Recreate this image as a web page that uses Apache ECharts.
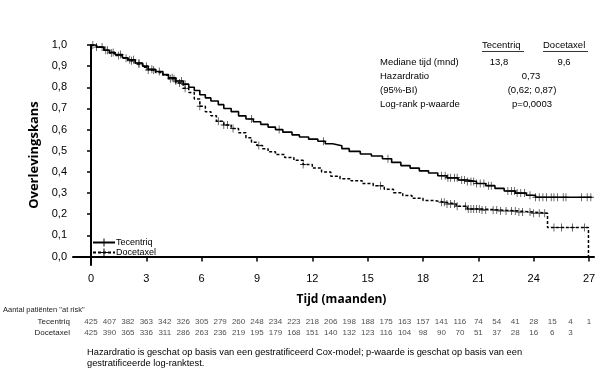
<!DOCTYPE html>
<html>
<head>
<meta charset="utf-8">
<script src="https://cdn.jsdelivr.net/npm/echarts@6/dist/echarts.min.js"></script>
<style>
  html, body { margin: 0; padding: 0; background: #fff; }
  #chart { width: 605px; height: 376px; }
</style>
</head>
<body>
<div id="chart"></div>
<script>
// tick labels
var xTicks = [0, 3, 6, 9, 12, 15, 18, 21, 24, 27];
var yTicks = [0, 0.1, 0.2, 0.3, 0.4, 0.5, 0.6, 0.7, 0.8, 0.9, 1.0];

// Kaplan-Meier stappen (tijd in maanden, overlevingskans na de stap)
var tecTime = [0, 0.3, 0.7, 1.0, 1.3, 1.7, 2.0, 2.4, 2.8, 3.1, 3.5, 3.9, 4.2, 4.6, 5.0, 5.3, 5.6, 5.9, 6.2, 6.5, 6.9, 7.2, 7.6, 8.0, 8.4, 8.8, 9.2, 9.6, 10.0, 10.4, 10.9, 11.3, 11.8, 12.3, 12.7, 13.1, 13.6, 14.0, 14.6, 15.2, 15.8, 16.3, 16.8, 17.3, 17.8, 18.3, 18.8, 19.3, 19.9, 20.4, 20.9, 21.4, 21.9, 22.4, 23.0, 23.6, 24.1, 27.15];
var tecSurv = [1.0, 0.99, 0.975, 0.965, 0.955, 0.94, 0.93, 0.915, 0.9, 0.885, 0.875, 0.86, 0.845, 0.83, 0.815, 0.8, 0.785, 0.765, 0.75, 0.735, 0.718, 0.7, 0.685, 0.665, 0.65, 0.637, 0.625, 0.612, 0.6, 0.588, 0.575, 0.565, 0.555, 0.545, 0.533, 0.524, 0.51, 0.497, 0.485, 0.475, 0.462, 0.445, 0.43, 0.418, 0.405, 0.395, 0.382, 0.372, 0.362, 0.355, 0.345, 0.335, 0.322, 0.31, 0.3, 0.29, 0.28, 0.28];

var docTime = [0, 0.3, 0.7, 1.0, 1.3, 1.7, 2.0, 2.4, 2.8, 3.1, 3.5, 3.9, 4.2, 4.6, 5.0, 5.3, 5.6, 5.9, 6.2, 6.5, 6.8, 7.2, 7.6, 8.0, 8.4, 8.7, 9.0, 9.3, 9.6, 10.0, 10.5, 11.0, 11.5, 12.0, 12.5, 13.0, 13.5, 14.1, 14.7, 15.3, 15.9, 16.4, 16.9, 17.4, 18.0, 18.6, 19.2, 19.8, 20.4, 21.2, 22.2, 23.2, 24.0, 24.75, 26.97];
var docSurv = [1.0, 0.99, 0.975, 0.962, 0.95, 0.937, 0.925, 0.91, 0.895, 0.882, 0.87, 0.857, 0.84, 0.82, 0.795, 0.775, 0.745, 0.71, 0.685, 0.665, 0.64, 0.622, 0.605, 0.585, 0.562, 0.54, 0.525, 0.51, 0.495, 0.482, 0.468, 0.455, 0.435, 0.418, 0.4, 0.38, 0.368, 0.358, 0.345, 0.335, 0.318, 0.302, 0.288, 0.275, 0.265, 0.257, 0.248, 0.238, 0.225, 0.22, 0.215, 0.21, 0.205, 0.137, 0];

// gecensureerde tijden
var tecCensor = [0.1, 0.6, 0.9, 1.2, 1.6, 2.1, 2.3, 2.6, 3.0, 3.3, 3.7, 4.4, 4.6, 4.9, 5.1, 8.7, 10.2, 12.6, 16.1, 19.0, 19.2, 19.35, 19.5, 19.7, 19.85, 20.1, 20.25, 20.4, 20.6, 20.75, 20.9, 21.1, 21.3, 21.55, 21.7, 22.6, 22.8, 22.95, 23.1, 23.3, 23.5, 23.8, 24.1, 24.3, 24.5, 24.7, 24.95, 25.1, 25.3, 25.6, 25.75, 26.6, 26.9, 27.1];
var docCensor = [0.3, 0.8, 1.1, 1.5, 1.9, 2.2, 2.6, 3.1, 3.4, 4.3, 4.5, 4.8, 5.1, 5.9, 6.9, 7.2, 7.4, 7.7, 9.1, 11.5, 15.7, 19.0, 19.15, 19.3, 19.5, 19.7, 19.85, 20.3, 20.45, 20.6, 20.75, 20.9, 21.05, 21.2, 21.4, 21.8, 22.0, 22.2, 22.5, 22.8, 23.0, 23.2, 23.4, 23.8, 24.0, 24.3, 24.6, 25.1, 25.5, 26.1, 26.75];

// aantal patiënten "at risk" per maand
var riskTec = [425, 407, 382, 363, 342, 326, 305, 279, 260, 248, 234, 223, 218, 206, 198, 188, 175, 163, 157, 141, 116, 74, 54, 41, 28, 15, 4, 1];
var riskDoc = [425, 390, 365, 336, 311, 286, 263, 236, 219, 195, 179, 168, 151, 140, 132, 123, 116, 104, 98, 90, 70, 51, 37, 28, 16, 6, 3];

var FONT = '"Liberation Sans", Arial, sans-serif';
var PLUS = 'path://M4.4,0h1.2v4.4h4.4v1.2h-4.4v4.4h-1.2v-4.4h-4.4v-1.2h4.4z';

function steps(times, surv) {
    return times.map(function (t, i) { return [t, surv[i]]; });
}
// overlevingskans op tijd t uit de stappen
function survAt(times, surv, t) {
    var s = surv[0];
    for (var i = 0; i < times.length; i++) {
        if (times[i] <= t) s = surv[i];
    }
    return s;
}
function censorPts(c, times, surv) {
    return c.map(function (t) { return [t, survAt(times, surv, t)]; });
}
function riskPts(arr, name) {
    return arr.map(function (v, i) { return [i, name, v]; });
}

var myChart = echarts.init(document.getElementById('chart'));

var option = {
    animation: false,
    textStyle: { fontFamily: FONT, color: '#000' },
    grid: [
        { left: 73, right: 11, top: 45, bottom: 111 },
        { left: 73, right: 11, top: 316, height: 22 }
    ],
    legend: {
        data: ['Tecentriq', 'Docetaxel'],
        orient: 'vertical',
        left: 87,
        top: 233,
        itemGap: 1,
        itemWidth: 22,
        itemHeight: 10,
        textStyle: { fontSize: 9, fontFamily: FONT, color: '#000', padding: [0, 0, 0, -4] }
    },
    xAxis: [
        {
            type: 'value', min: -0.976, max: 27.27,
            splitLine: { show: false },
            axisLine: { lineStyle: { color: '#000', width: 2 } },
            axisTick: { length: 5, lineStyle: { color: '#000', width: 1.5 }, customValues: xTicks },
            axisLabel: { fontSize: 11, color: '#000', margin: 8, customValues: xTicks },
            name: 'Tijd (maanden)',
            nameLocation: 'middle',
            nameGap: 29,
            nameTextStyle: { fontSize: 12, fontWeight: 'bold', fontFamily: '"Open Sans", sans-serif', color: '#000', padding: [0, 0, 0, 16] }
        },
        { type: 'value', gridIndex: 1, min: -0.976, max: 27.27, show: false }
    ],
    yAxis: [
        {
            type: 'value', min: -0.04, max: 1.0,
            splitLine: { show: false },
            axisLine: { show: true, lineStyle: { color: '#000', width: 2 } },
            axisTick: { show: true, length: 4, lineStyle: { color: '#000', width: 1.5 }, customValues: yTicks },
            axisLabel: {
                fontSize: 11, color: '#000', margin: 6, customValues: yTicks,
                formatter: function (v) { return v.toFixed(1).replace('.', ','); }
            },
            name: 'Overlevingskans',
            nameLocation: 'middle',
            nameGap: 29,
            nameTextStyle: { fontSize: 13, fontWeight: 'bold', fontFamily: '"Open Sans", sans-serif', color: '#000' }
        },
        {
            type: 'category', gridIndex: 1,
            data: ['Docetaxel', 'Tecentriq'],
            axisLine: { show: false },
            axisTick: { show: false },
            axisLabel: { fontSize: 8, color: '#222', margin: 3 }
        }
    ],
    series: [
        {
            name: 'Tecentriq', type: 'line', step: 'end',
            data: steps(tecTime, tecSurv),
            showSymbol: false, symbol: PLUS, symbolSize: [7, 9],
            itemStyle: { color: '#000' },
            lineStyle: { color: '#000', width: 1.6 },
            silent: true
        },
        {
            name: 'Docetaxel', type: 'line', step: 'end',
            data: steps(docTime, docSurv),
            showSymbol: false, symbol: PLUS, symbolSize: [7, 9],
            itemStyle: { color: '#000' },
            lineStyle: { color: '#000', width: 1.5, type: [3, 2] },
            silent: true
        },
        {
            name: 'Tecentriq censor', type: 'scatter',
            data: censorPts(tecCensor, tecTime, tecSurv),
            symbol: PLUS, symbolSize: [6, 8],
            itemStyle: { color: '#000' }, silent: true
        },
        {
            name: 'Docetaxel censor', type: 'scatter',
            data: censorPts(docCensor, docTime, docSurv),
            symbol: PLUS, symbolSize: [6, 8],
            itemStyle: { color: '#000' }, silent: true
        },
        {
            type: 'scatter', xAxisIndex: 1, yAxisIndex: 1,
            data: riskPts(riskTec, 'Tecentriq').concat(riskPts(riskDoc, 'Docetaxel')),
            symbolSize: 1,
            itemStyle: { color: 'rgba(0,0,0,0)' },
            label: {
                show: true, position: 'inside', fontSize: 8, color: '#222',
                formatter: function (p) { return p.value[2]; }
            },
            silent: true
        }
    ],
    graphic: [
        // tabel rechtsboven
        { type: 'text', left: 482, top: 40, style: { text: 'Tecentriq', font: '9.5px ' + FONT, fill: '#000' } },
        { type: 'text', left: 543, top: 40, style: { text: 'Docetaxel', font: '9.5px ' + FONT, fill: '#000' } },
        { type: 'line', shape: { x1: 482, y1: 51.5, x2: 524, y2: 51.5 }, style: { stroke: '#000', lineWidth: 0.8 } },
        { type: 'line', shape: { x1: 543, y1: 51.5, x2: 588, y2: 51.5 }, style: { stroke: '#000', lineWidth: 0.8 } },
        { type: 'text', left: 380, top: 57, style: { text: 'Mediane tijd (mnd)', font: '9.5px ' + FONT, fill: '#000' } },
        { type: 'text', left: 380, top: 71.5, style: { text: 'Hazardratio', font: '9.5px ' + FONT, fill: '#000' } },
        { type: 'text', left: 380, top: 85.5, style: { text: '(95%-BI)', font: '9.5px ' + FONT, fill: '#000' } },
        { type: 'text', left: 380, top: 99.5, style: { text: 'Log-rank p-waarde', font: '9.5px ' + FONT, fill: '#000' } },
        { type: 'text', x: 499, y: 57, style: { text: '13,8', font: '9.5px ' + FONT, fill: '#000', textAlign: 'center' } },
        { type: 'text', x: 564, y: 57, style: { text: '9,6', font: '9.5px ' + FONT, fill: '#000', textAlign: 'center' } },
        { type: 'text', x: 531, y: 71.5, style: { text: '0,73', font: '9.5px ' + FONT, fill: '#000', textAlign: 'center' } },
        { type: 'text', x: 532, y: 85.5, style: { text: '(0,62; 0,87)', font: '9.5px ' + FONT, fill: '#000', textAlign: 'center' } },
        { type: 'text', x: 532, y: 99.5, style: { text: 'p=0,0003', font: '9.5px ' + FONT, fill: '#000', textAlign: 'center' } },
        // at risk kop
        { type: 'text', left: 3, top: 306, style: { text: 'Aantal patiënten "at risk"', font: '7.5px ' + FONT, fill: '#222' } },
        // voetnoot
        { type: 'text', left: 87, top: 347, style: { text: 'Hazardratio is geschat op basis van een gestratificeerd Cox-model; p-waarde is geschat op basis van een\ngestratificeerde log-ranktest.', font: '9.3px ' + FONT, fill: '#000', lineHeight: 11 } }
    ]
};

myChart.setOption(option);
</script>
</body>
</html>
